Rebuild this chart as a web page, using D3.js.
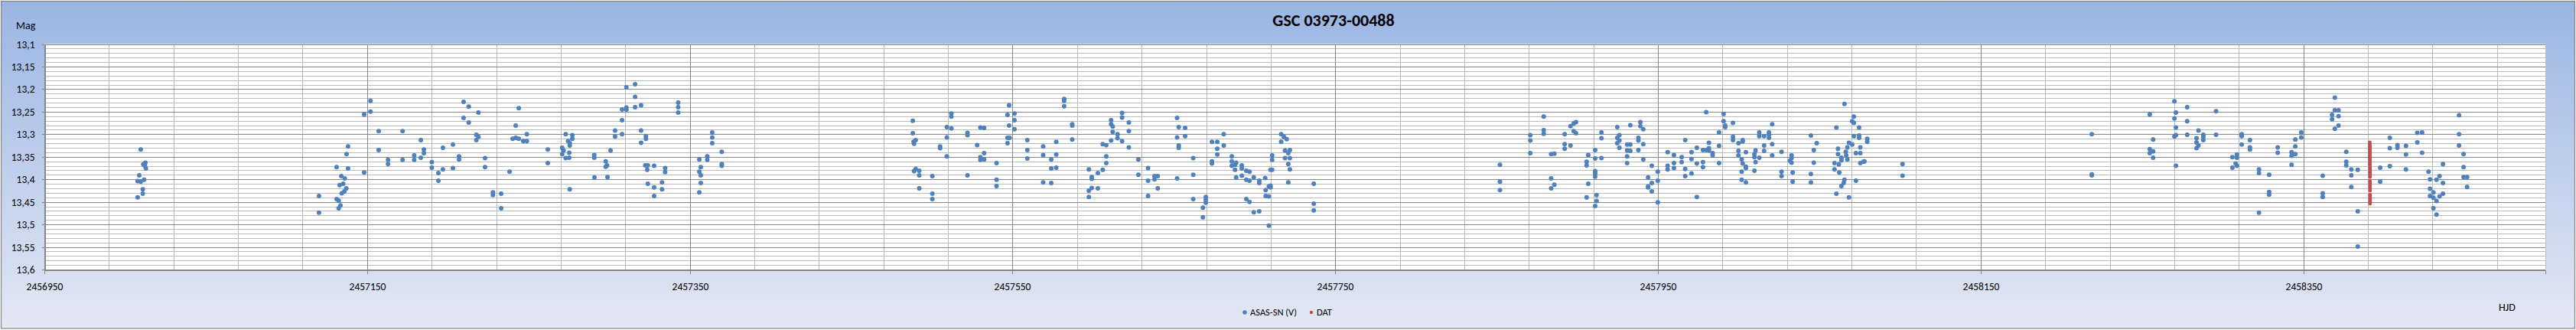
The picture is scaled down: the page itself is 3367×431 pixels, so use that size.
<!DOCTYPE html>
<html><head><meta charset="utf-8">
<script src="https://cdn.jsdelivr.net/npm/d3@7"></script>
<style>
body{margin:0;background:#fff}
svg{display:block}
text{font-family:Carlito,Calibri,Lato,"Open Sans",sans-serif;fill:#000}
</style>
</head><body>
<svg id="chart" width="3367" height="431"></svg>
<script>
// ---------------- data ----------------
const chartTitle = "GSC 03973-00488";
const yAxisTitle = "Mag";
const xAxisTitle = "HJD";
const seriesNames = ["ASAS-SN (V)", "DAT"];
const seriesColors = ["#4F81BD", "#C0504D"];
const xTickValues = [2456950, 2457150, 2457350, 2457550, 2457750, 2457950, 2458150, 2458350];
const yTickValues = [13.1, 13.15, 13.2, 13.25, 13.3, 13.35, 13.4, 13.45, 13.5, 13.55, 13.6];

const asasHJD = [
2457009.7, 2457012.6, 2457011.3, 2457012.3, 2457012.9, 2457008.8, 2457007.8, 2457009.7, 2457011.8, 2457011.0,
2457011.0, 2457007.8,
2457120.2, 2457120.2, 2457131.1, 2457138.2, 2457137.3, 2457138.2, 2457134.0, 2457136.2, 2457133.0, 2457135.2,
2457137.1, 2457135.9, 2457134.3, 2457131.1, 2457132.4, 2457133.5, 2457132.4, 2457148.2, 2457148.2, 2457152.1,
2457152.1, 2457157.2, 2457157.2, 2457163.0, 2457163.0, 2457172.0, 2457172.0, 2457179.2, 2457179.2, 2457183.3,
2457183.3, 2457185.2, 2457185.2, 2457190.1, 2457190.1, 2457194.2, 2457194.2, 2457197.0, 2457197.0, 2457203.2,
2457203.2, 2457207.0, 2457207.0,
2457209.8, 2457213.0, 2457219.0, 2457209.8, 2457213.0, 2457217.7, 2457219.0, 2457217.7, 2457223.1, 2457223.1,
2457228.0, 2457228.0, 2457233.1, 2457233.1, 2457238.3, 2457242.1, 2457244.0, 2457240.2, 2457242.1, 2457244.0,
2457246.8, 2457249.0, 2457249.0, 2457262.0, 2457262.0, 2457270.9, 2457270.9, 2457271.8, 2457273.1, 2457273.1,
2457274.6, 2457275.3, 2457275.3, 2457275.6, 2457275.6, 2457275.6, 2457277.2, 2457277.2, 2457290.8, 2457290.8,
2457290.9, 2457297.9, 2457297.9, 2457298.7, 2457299.0, 2457300.9, 2457303.7, 2457303.7, 2457308.0, 2457308.0,
2457308.0, 2457310.7, 2457310.7, 2457310.7, 2457316.1, 2457316.1, 2457316.1, 2457319.8, 2457319.8, 2457319.8,
2457322.8, 2457322.8, 2457322.4, 2457324.0, 2457323.6, 2457327.9, 2457324.0, 2457327.9, 2457327.9, 2457332.8,
2457332.8, 2457334.7, 2457334.7, 2457342.8, 2457342.8, 2457342.8, 2457355.9, 2457355.9, 2457355.9, 2457356.8,
2457356.8, 2457356.8, 2457360.8, 2457360.8, 2457363.9, 2457363.9, 2457363.9, 2457369.8, 2457369.8, 2457369.8,
2457488.2, 2457488.2, 2457488.7, 2457490.0, 2457489.0, 2457490.0, 2457489.0, 2457492.2, 2457492.2, 2457492.2,
2457500.3, 2457500.3, 2457500.3, 2457505.1, 2457505.1, 2457509.3, 2457509.3, 2457509.3, 2457512.1, 2457512.1,
2457512.1, 2457522.1, 2457522.1, 2457522.1, 2457528.1, 2457530.1, 2457532.4, 2457530.1, 2457530.1, 2457532.4,
2457532.4, 2457540.1, 2457540.1, 2457540.1, 2457546.9, 2457546.9, 2457547.9, 2457547.9, 2457546.9, 2457548.2,
2457551.2, 2457551.2, 2457551.2, 2457559.2, 2457559.2, 2457559.2, 2457569.0, 2457569.0, 2457569.0, 2457574.0,
2457574.0, 2457574.0, 2457577.1, 2457577.1, 2457577.1, 2457582.0, 2457582.0, 2457582.0, 2457587.0, 2457587.0,
2457587.0, 2457597.3, 2457597.3, 2457597.3, 2457599.1, 2457599.1, 2457599.1, 2457602.9, 2457602.9, 2457605.9,
2457605.9, 2457608.1, 2457608.1, 2457608.1, 2457611.1, 2457611.1, 2457612.1, 2457612.1, 2457611.1, 2457615.1,
2457615.1, 2457617.9, 2457617.9, 2457617.9, 2457622.1, 2457622.1, 2457622.1, 2457628.0, 2457628.0, 2457634.0,
2457634.0, 2457634.0, 2457638.0, 2457638.0, 2457640.0, 2457640.0, 2457652.0, 2457653.0, 2457652.0, 2457653.0,
2457653.0, 2457652.0, 2457657.0, 2457657.0, 2457662.0, 2457662.0, 2457662.0, 2457668.0, 2457668.0, 2457669.8,
2457669.8, 2457669.8, 2457673.6, 2457676.9, 2457676.9, 2457676.9, 2457673.6, 2457673.6, 2457680.9, 2457680.9,
2457685.9, 2457685.9, 2457685.9, 2457687.9, 2457687.9, 2457688.6, 2457688.6, 2457692.1, 2457692.1, 2457692.1,
2457694.9, 2457696.9, 2457694.9, 2457696.9, 2457694.9, 2457696.9, 2457699.5, 2457699.5, 2457702.9, 2457702.9,
2457702.9,
2457710.9, 2457710.9, 2457709.9, 2457710.9, 2457706.6, 2457706.9, 2457708.9, 2457709.9, 2457709.9, 2457706.9,
2457708.9, 2457708.9, 2457716.5, 2457718.2, 2457719.9, 2457716.5, 2457718.9, 2457720.9, 2457721.9, 2457718.9,
2457721.9, 2457720.9, 2457721.9, 2457720.9, 2457736.7, 2457736.7, 2457736.7, 2457852.1, 2457852.1, 2457852.1,
2457870.9, 2457870.9, 2457870.9, 2457879.2, 2457879.2, 2457879.2, 2457883.8, 2457885.8, 2457883.8, 2457885.8,
2457883.8, 2457892.2, 2457892.2, 2457892.2, 2457895.8, 2457895.8, 2457897.8, 2457899.2, 2457897.8, 2457899.2,
2457905.8, 2457905.8, 2457906.8, 2457906.8, 2457905.8, 2457911.1, 2457911.1, 2457911.1, 2457911.1, 2457911.1,
2457912.0, 2457912.0, 2457911.1, 2457915.0, 2457915.0, 2457915.0, 2457924.8, 2457926.1, 2457924.8, 2457926.1,
2457924.8, 2457926.1, 2457930.9, 2457932.9, 2457930.9, 2457932.9, 2457930.9, 2457930.9, 2457932.9, 2457937.9,
2457937.9, 2457937.9, 2457939.1, 2457939.1, 2457940.9, 2457940.9, 2457940.9, 2457946.2, 2457943.9, 2457943.9,
2457943.9, 2457946.2, 2457946.2, 2457949.9, 2457949.9, 2457949.9, 2457956.0, 2457956.0, 2457956.0, 2457959.9,
2457959.9, 2457959.9, 2457964.7, 2457964.7,
2457966.9, 2457966.9, 2457966.9, 2457970.8, 2457970.8, 2457970.8, 2457974.1, 2457974.1, 2457974.1, 2457977.9,
2457977.9, 2457977.9, 2457979.9, 2457979.9, 2457981.6, 2457981.6, 2457981.6, 2457983.9, 2457983.9, 2457987.9,
2457987.9, 2457987.9, 2457990.7, 2457990.7, 2457991.7, 2457991.7, 2457996.5, 2457996.5, 2457996.5, 2457999.9,
2457999.9, 2457999.9, 2458001.9, 2458002.5, 2458002.5, 2458002.5, 2458001.9, 2458001.9, 2458004.5, 2458004.5,
2458004.5, 2458004.5, 2458009.8, 2458010.5, 2458009.8, 2458010.5, 2458009.8, 2458012.8, 2458012.8, 2458012.8,
2458015.8, 2458015.8, 2458015.8, 2458018.8, 2458018.8, 2458018.8, 2458020.8, 2458020.8, 2458020.8, 2458026.6,
2458026.6, 2458026.6, 2458031.8, 2458032.8, 2458032.8, 2458032.8, 2458033.5, 2458033.5, 2458044.8, 2458044.8,
2458044.8, 2458046.6, 2458046.6, 2458048.4, 2458059.4, 2458059.4, 2458060.6, 2458060.6, 2458061.6, 2458061.6,
2458062.1, 2458062.4, 2458063.7, 2458063.7, 2458063.7, 2458065.1, 2458065.6, 2458065.6, 2458066.4, 2458066.7,
2458067.4, 2458067.4, 2458068.4, 2458068.4, 2458070.4, 2458070.4, 2458071.4, 2458071.4, 2458071.4, 2458072.7,
2458072.7, 2458074.7, 2458074.7, 2458074.7, 2458075.4, 2458075.4, 2458075.4, 2458077.4, 2458078.0, 2458079.7,
2458079.7, 2458101.6, 2458101.6, 2458218.9, 2458218.9, 2458218.9,
2458254.8, 2458256.9, 2458254.8, 2458256.9, 2458254.8, 2458256.9, 2458270.1, 2458271.0, 2458270.1, 2458271.0,
2458271.0, 2458270.1, 2458271.0, 2458278.0, 2458278.0, 2458278.0, 2458285.0, 2458283.8, 2458283.8, 2458285.0,
2458283.8, 2458288.0, 2458288.0, 2458288.0, 2458295.9, 2458295.9, 2458311.8, 2458311.8, 2458311.8, 2458316.9,
2458316.9, 2458316.9, 2458306.0, 2458308.8, 2458308.8, 2458308.0, 2458308.8, 2458306.0, 2458322.5, 2458322.5,
2458322.5, 2458328.8, 2458328.8, 2458328.8, 2458334.1, 2458334.1, 2458342.7, 2458342.7, 2458345.0, 2458345.0,
2458345.0, 2458348.7, 2458348.7, 2458342.7, 2458362.0, 2458362.0, 2458362.0, 2458369.5, 2458369.5, 2458371.8,
2458367.8, 2458367.8, 2458371.8, 2458369.5, 2458371.8, 2458376.6, 2458376.6, 2458376.6, 2458379.7, 2458379.7,
2458379.7, 2458383.7, 2458383.7, 2458383.7, 2458397.6, 2458397.6, 2458403.6, 2458403.6, 2458403.6, 2458408.3,
2458408.3, 2458413.6, 2458413.6, 2458413.6, 2458420.6, 2458420.6, 2458423.6, 2458423.6, 2458427.6, 2458428.5,
2458428.5, 2458428.5, 2458430.6, 2458430.6, 2458430.6, 2458432.5, 2458432.5, 2458432.5, 2458434.4, 2458434.4,
2458436.5, 2458436.5, 2458436.5, 2458446.5, 2458446.5, 2458446.5, 2458449.3, 2458449.3, 2458449.3, 2458451.5,
2458451.5
];

const asasMag = [
13.334, 13.363, 13.367, 13.370, 13.376, 13.391, 13.404, 13.405, 13.401, 13.422,
13.432, 13.440,
13.437, 13.474, 13.373, 13.327, 13.344, 13.376, 13.393, 13.398, 13.413, 13.410,
13.420, 13.427, 13.431, 13.444, 13.447, 13.458, 13.464, 13.256, 13.385, 13.226,
13.250, 13.293, 13.335, 13.357, 13.366, 13.293, 13.357, 13.347, 13.357, 13.313,
13.352, 13.334, 13.342, 13.362, 13.374, 13.386, 13.403, 13.330, 13.378, 13.323,
13.375, 13.349, 13.356,
13.228, 13.239, 13.252, 13.264, 13.274, 13.301, 13.306, 13.313, 13.353, 13.373,
13.429, 13.435, 13.432, 13.464, 13.383, 13.281, 13.242, 13.310, 13.308, 13.310,
13.315, 13.315, 13.300, 13.334, 13.364, 13.330, 13.344, 13.336, 13.300, 13.353,
13.315, 13.341, 13.352, 13.320, 13.325, 13.422, 13.302, 13.310, 13.346, 13.352,
13.396, 13.360, 13.372, 13.369, 13.395, 13.336, 13.292, 13.305, 13.245, 13.269,
13.300, 13.196, 13.241, 13.245, 13.189, 13.217, 13.240, 13.236, 13.292, 13.319,
13.304, 13.310, 13.369, 13.369, 13.379, 13.370, 13.410, 13.418, 13.437, 13.407,
13.422, 13.375, 13.384, 13.230, 13.240, 13.252, 13.356, 13.383, 13.429, 13.373,
13.391, 13.408, 13.349, 13.357, 13.296, 13.307, 13.320, 13.339, 13.366, 13.370,
13.270, 13.298, 13.317, 13.313, 13.321, 13.377, 13.382, 13.381, 13.391, 13.420,
13.393, 13.432, 13.444, 13.327, 13.331, 13.284, 13.307, 13.349, 13.254, 13.261,
13.287, 13.297, 13.302, 13.391, 13.324, 13.285, 13.286, 13.351, 13.357, 13.342,
13.356, 13.364, 13.401, 13.415, 13.257, 13.320, 13.236, 13.281, 13.308, 13.308,
13.254, 13.269, 13.289, 13.313, 13.335, 13.354, 13.327, 13.346, 13.407, 13.356,
13.376, 13.408, 13.317, 13.345, 13.374, 13.222, 13.226, 13.238, 13.278, 13.281,
13.312, 13.378, 13.425, 13.439, 13.395, 13.399, 13.419, 13.386, 13.420, 13.322,
13.379, 13.324, 13.349, 13.364, 13.269, 13.278, 13.283, 13.295, 13.314, 13.300,
13.309, 13.253, 13.263, 13.315, 13.274, 13.293, 13.329, 13.356, 13.390, 13.375,
13.403, 13.437, 13.393, 13.400, 13.393, 13.420, 13.264, 13.284, 13.307, 13.325,
13.330, 13.398, 13.286, 13.304, 13.353, 13.390, 13.444, 13.463, 13.484, 13.439,
13.446, 13.452, 13.317, 13.317, 13.332, 13.345, 13.360, 13.365, 13.300, 13.325,
13.349, 13.360, 13.370, 13.368, 13.379, 13.363, 13.396, 13.369, 13.376, 13.392,
13.381, 13.383, 13.401, 13.403, 13.444, 13.450, 13.396, 13.473, 13.403, 13.408,
13.471,
13.347, 13.357, 13.379, 13.379, 13.397, 13.424, 13.416, 13.414, 13.418, 13.437,
13.438, 13.503, 13.300, 13.306, 13.311, 13.317, 13.336, 13.342, 13.335, 13.353,
13.353, 13.366, 13.378, 13.407, 13.410, 13.454, 13.469, 13.368, 13.405, 13.424,
13.302, 13.314, 13.342, 13.261, 13.291, 13.299, 13.344, 13.343, 13.398, 13.412,
13.420, 13.300, 13.322, 13.332, 13.325, 13.282, 13.276, 13.273, 13.293, 13.298,
13.361, 13.369, 13.346, 13.410, 13.440, 13.335, 13.354, 13.382, 13.387, 13.394,
13.435, 13.448, 13.459, 13.296, 13.309, 13.353, 13.284, 13.302, 13.308, 13.314,
13.320, 13.330, 13.323, 13.323, 13.336, 13.337, 13.349, 13.364, 13.280, 13.308,
13.314, 13.335, 13.273, 13.282, 13.289, 13.322, 13.356, 13.370, 13.396, 13.416,
13.418, 13.408, 13.427, 13.383, 13.403, 13.451, 13.340, 13.370, 13.378, 13.346,
13.364, 13.375, 13.351, 13.362,
13.313, 13.377, 13.393, 13.340, 13.355, 13.387, 13.330, 13.365, 13.439, 13.335,
13.362, 13.373, 13.251, 13.335, 13.319, 13.331, 13.336, 13.342, 13.347, 13.296,
13.326, 13.364, 13.255, 13.271, 13.281, 13.284, 13.275, 13.306, 13.313, 13.320,
13.337, 13.347, 13.356, 13.313, 13.316, 13.365, 13.383, 13.401, 13.340, 13.372,
13.375, 13.407, 13.344, 13.336, 13.351, 13.362, 13.381, 13.296, 13.304, 13.352,
13.304, 13.325, 13.337, 13.296, 13.301, 13.308, 13.278, 13.322, 13.347, 13.339,
13.383, 13.393, 13.359, 13.347, 13.353, 13.363, 13.385, 13.405, 13.303, 13.388,
13.407, 13.335, 13.363, 13.320, 13.364, 13.378, 13.285, 13.432, 13.332, 13.344,
13.367, 13.385, 13.352, 13.358, 13.415, 13.408, 13.233, 13.401, 13.339, 13.347,
13.329, 13.356, 13.319, 13.440, 13.271, 13.323, 13.261, 13.275, 13.304, 13.342,
13.403, 13.285, 13.303, 13.308, 13.329, 13.342, 13.364, 13.361, 13.360, 13.310,
13.317, 13.366, 13.392, 13.300, 13.389, 13.391,
13.256, 13.312, 13.333, 13.338, 13.342, 13.352, 13.227, 13.252, 13.265, 13.285,
13.302, 13.305, 13.370, 13.240, 13.271, 13.301, 13.292, 13.309, 13.318, 13.325,
13.331, 13.301, 13.306, 13.313, 13.249, 13.301, 13.300, 13.304, 13.323, 13.313,
13.329, 13.334, 13.351, 13.345, 13.352, 13.365, 13.370, 13.374, 13.378, 13.386,
13.474, 13.390, 13.428, 13.434, 13.329, 13.341, 13.340, 13.348, 13.344, 13.327,
13.312, 13.296, 13.307, 13.368, 13.392, 13.431, 13.439, 13.219, 13.247, 13.247,
13.257, 13.267, 13.260, 13.288, 13.281, 13.339, 13.361, 13.369, 13.378, 13.391,
13.417, 13.379, 13.471, 13.549, 13.374, 13.405, 13.308, 13.331, 13.371, 13.324,
13.330, 13.326, 13.345, 13.378, 13.297, 13.318, 13.296, 13.341, 13.383, 13.400,
13.421, 13.437, 13.429, 13.441, 13.464, 13.401, 13.448, 13.478, 13.393, 13.438,
13.366, 13.408, 13.432, 13.258, 13.300, 13.325, 13.344, 13.373, 13.395, 13.395,
13.417
];

const datHJD = [
2458391.18, 2458391.19, 2458391.19, 2458391.20, 2458391.20, 2458391.21, 2458391.21, 2458391.22, 2458391.22, 2458391.23,
2458391.23, 2458391.24, 2458391.24, 2458391.25, 2458391.25, 2458391.26, 2458391.26, 2458391.27, 2458391.27, 2458391.28,
2458391.28, 2458391.29, 2458391.29, 2458391.30, 2458391.30, 2458391.31, 2458391.31, 2458391.32, 2458391.32, 2458391.33,
2458391.33, 2458391.34, 2458391.34, 2458391.35, 2458391.35, 2458391.36, 2458391.36, 2458391.37, 2458391.37, 2458391.38,
2458391.38
];
const datMag = [
13.318, 13.321, 13.324, 13.327, 13.329, 13.332, 13.335, 13.338, 13.340, 13.343,
13.346, 13.349, 13.352, 13.354, 13.357, 13.360, 13.363, 13.366, 13.369, 13.372,
13.375, 13.378, 13.382, 13.385, 13.388, 13.391, 13.395, 13.404, 13.407, 13.410,
13.414, 13.418, 13.421, 13.425, 13.434, 13.437, 13.441, 13.444, 13.448, 13.451,
13.454
];

// ---------------- layout ----------------
const W = 3367, H = 431;
const plot = {left: 58, right: 3327, top: 57.5, bottom: 352};
const xDomain = [2456950, 2458500];
const yDomain = [13.1, 13.6];

const svg = d3.select("#chart");
const defs = svg.append("defs");
const grad = defs.append("linearGradient").attr("id", "bg").attr("x1", 0).attr("y1", 0).attr("x2", 0).attr("y2", 1);
grad.append("stop").attr("offset", "0%").attr("stop-color", "#9AB5E3");
grad.append("stop").attr("offset", "100%").attr("stop-color", "#E3E8F4");

svg.append("rect").attr("x", 1.5).attr("y", 1.5).attr("width", W - 3).attr("height", H - 3.5)
  .attr("fill", "url(#bg)").attr("stroke", "#868686").attr("stroke-width", 1.2);

const x = d3.scaleLinear().domain(xDomain).range([plot.left, plot.right]);
const y = d3.scaleLinear().domain(yDomain).range([plot.top, plot.bottom]);

const px = v => Math.round(v) + 0.5;

// plot area
svg.append("rect").attr("x", plot.left).attr("y", plot.top)
  .attr("width", plot.right - plot.left).attr("height", plot.bottom - plot.top)
  .attr("fill", "#fff");

const grid = svg.append("g").attr("shape-rendering", "crispEdges");
const yMinor = d3.range(0, 51).map(i => yDomain[0] + i * 0.01);
grid.selectAll("line.hmin").data(yMinor).join("line")
  .attr("x1", plot.left).attr("x2", plot.right)
  .attr("y1", d => px(y(d))).attr("y2", d => px(y(d)))
  .attr("stroke", "#BBBBBB").attr("stroke-width", 1);
const xMinor = d3.range(xDomain[0], xDomain[1] + 1, 40);
grid.selectAll("line.vmin").data(xMinor).join("line")
  .attr("y1", plot.top).attr("y2", plot.bottom)
  .attr("x1", d => px(x(d))).attr("x2", d => px(x(d)))
  .attr("stroke", "#BBBBBB").attr("stroke-width", 1);
grid.selectAll("line.hmaj").data(yTickValues).join("line")
  .attr("x1", plot.left).attr("x2", plot.right)
  .attr("y1", d => px(y(d))).attr("y2", d => px(y(d)))
  .attr("stroke", "#878787").attr("stroke-width", 1);
grid.selectAll("line.vmaj").data(xTickValues).join("line")
  .attr("y1", plot.top).attr("y2", plot.bottom)
  .attr("x1", d => px(x(d))).attr("x2", d => px(x(d)))
  .attr("stroke", "#878787").attr("stroke-width", 1);
grid.append("line").attr("x1", px(plot.right)).attr("x2", px(plot.right))
  .attr("y1", plot.top).attr("y2", plot.bottom).attr("stroke", "#BBBBBB");

// axes
const loc = d3.formatLocale({decimal: ",", thousands: ".", grouping: [3], currency: ["", ""]});
const yFmt = loc.format(".2~f");
const yAxis = d3.axisLeft(y).tickValues(yTickValues).tickFormat(yFmt).tickSize(4).tickPadding(9);
const gy = svg.append("g").attr("transform", `translate(${px(plot.left)},0)`).call(yAxis);
gy.selectAll(".tick").attr("transform", d => `translate(0,${px(y(d))})`);
gy.selectAll("line").attr("stroke", "#868686").attr("shape-rendering", "crispEdges");
gy.select(".domain").attr("stroke", "#868686").attr("shape-rendering", "crispEdges");
gy.selectAll("text").attr("font-size", "13.5px").attr("fill", "#000");

const xAxis = d3.axisBottom(x).tickValues(xTickValues).tickFormat(d3.format("d")).tickSize(5).tickPadding(12);
const gx = svg.append("g").attr("transform", `translate(0,${px(plot.bottom)})`).call(xAxis);
gx.selectAll(".tick").attr("transform", d => `translate(${px(x(d))},0)`);
gx.selectAll("line").attr("stroke", "#868686").attr("shape-rendering", "crispEdges");
gx.select(".domain").attr("stroke", "#868686").attr("shape-rendering", "crispEdges");
gx.selectAll("text").attr("font-size", "13.5px").attr("fill", "#000");
gy.attr("font-family", null); gx.attr("font-family", null);

// data
const asas = asasHJD.map((h, i) => ({h, m: asasMag[i]}));
const dat = datHJD.map((h, i) => ({h, m: datMag[i]}));

svg.append("g").selectAll("circle").data(asas).join("circle")
  .attr("cx", d => x(d.h)).attr("cy", d => y(d.m)).attr("r", 3)
  .attr("fill", seriesColors[0]);
svg.append("g").selectAll("circle").data(dat).join("circle")
  .attr("cx", d => x(d.h)).attr("cy", d => y(d.m)).attr("r", 2.4)
  .attr("fill", seriesColors[1]);

// titles
svg.append("text").attr("x", 1743).attr("y", 34).attr("text-anchor", "middle")
  .attr("font-size", "22px").attr("font-weight", "bold").text(chartTitle);
svg.append("text").attr("x", 21).attr("y", 37.5).attr("font-size", "14px").text(yAxisTitle);
svg.append("text").attr("x", 3266).attr("y", 406).attr("font-size", "14px").text(xAxisTitle);

// legend
const leg = svg.append("g");
const legR = [2.8, 2.2];
let lx = 1627;
seriesNames.forEach((name, i) => {
  leg.append("circle").attr("cx", lx).attr("cy", 408).attr("r", legR[i]).attr("fill", seriesColors[i]);
  const t = leg.append("text").attr("x", lx + 7).attr("y", 412.3).attr("font-size", "12.5px").text(name);
  lx = lx + 7 + t.node().getComputedTextLength() + 19;
});
</script>
</body></html>
